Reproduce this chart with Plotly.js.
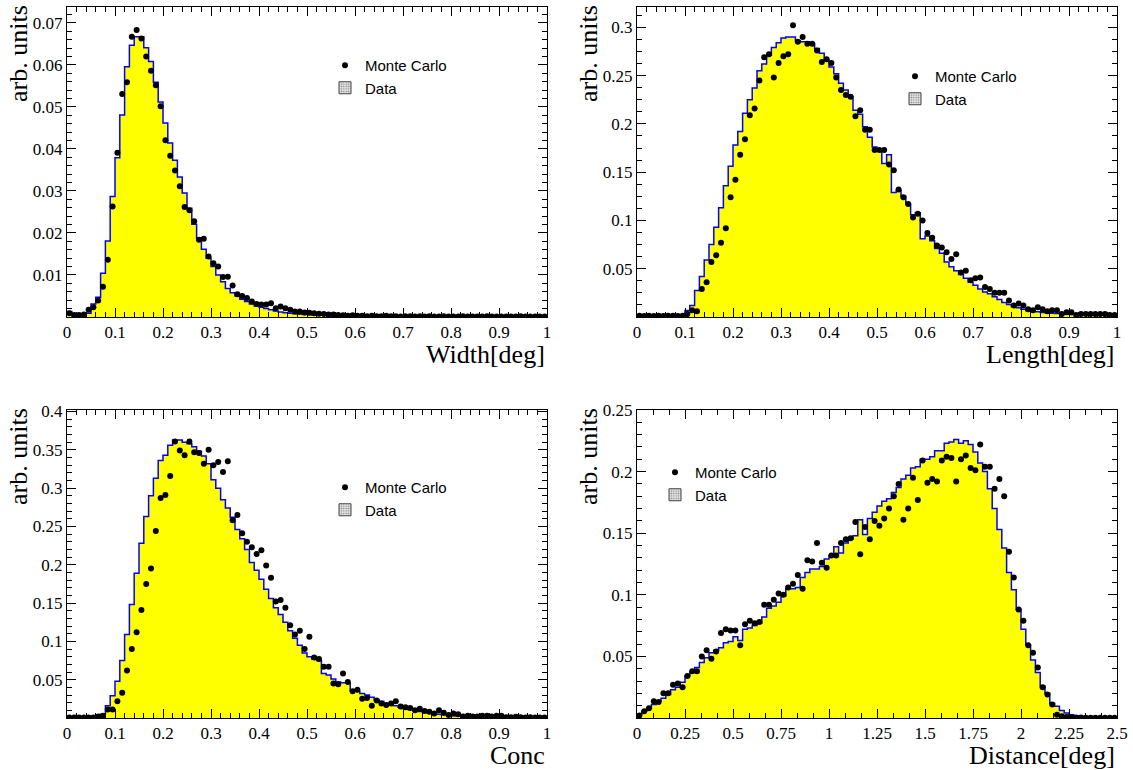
<!DOCTYPE html>
<html><head><meta charset="utf-8">
<script src="https://cdn.plot.ly/plotly-3.0.1.min.js"></script>
<style>body{margin:0;background:#fff}#chart{width:1133px;height:770px}</style>
</head><body><div id="chart"></div>
<script>
// ---------- data (100 bins per histogram) ----------
const widthRange = [0, 1];
const lengthRange = [0, 1];
const concRange = [0, 1];
const distanceRange = [0, 2.5];

const widthData = [0.0013,0.0003,0.0003,0.0004,0.0009,0.0031,0.0047,0.0104,0.0181,0.0287,
 0.0379,0.0481,0.0596,0.0647,0.0667,0.0667,0.0641,0.0608,0.0559,0.0512,
 0.0462,0.0414,0.0373,0.0333,0.0295,0.0259,0.0221,0.0188,0.0161,0.0140,
 0.0120,0.0100,0.0084,0.0068,0.0058,0.0050,0.0042,0.0037,0.0031,0.0026,
 0.0023,0.0020,0.0017,0.0014,0.0012,0.0010,0.0009,0.0008,0.0007,0.0006,
 0.0006,0.0005,0.0005,0.0004,0.0004,0.0003,0.0003,0.0003,0.0003,0.0003,
 0.0003,0.0002,0.0002,0.0002,0.0002,0.0002,0.0002,0.0002,0.0002,0.0002,
 0.0002,0.0001,0.0001,0.0001,0.0001,0.0001,0.0001,0.0001,0.0001,0.0001,
 0.0001,0.0001,0.0001,0.0001,0.0001,0.0001,0.0001,0.0001,0.0001,0.0001,
 0.0001,0.0001,0.0001,0.0001,0.0001,0.0001,0.0001,0.0001,0.0001,0.0001];
const widthMC = [0.0009,0.0005,0.0005,0.0006,0.0017,0.0023,0.0039,0.0072,0.0136,0.0263,
 0.0391,0.0531,0.0559,0.0667,0.0683,0.0663,0.0620,0.0586,0.0552,0.0502,
 0.0421,0.0384,0.0349,0.0311,0.0262,0.0254,0.0228,0.0184,0.0186,0.0144,
 0.0128,0.0120,0.0095,0.0096,0.0075,0.0054,0.0050,0.0045,0.0037,0.0031,
 0.0030,0.0030,0.0033,0.0021,0.0025,0.0021,0.0017,0.0013,0.0013,0.0011,
 0.0010,0.0009,0.0008,0.0007,0.0006,0.0006,0.0005,0.0004,0.0003,0.0004,
 0.0003,0.0003,0.0002,0.0003,0.0002,0.0002,0.0003,0.0002,0.0002,0.0001,
 0.0002,0.0002,0.0001,0.0002,0.0001,0.0002,0.0001,0.0001,0.0002,0.0001,
 0.0001,0.0001,0.0002,0.0001,0.0001,0.0001,0.0001,0.0002,0.0001,0.0001,
 0.0001,0.0001,0.0001,0.0001,0.0002,0.0001,0.0001,0.0001,0.0001,0.0001];

const lengthData = [0.0008,0.0008,0.0008,0.0008,0.0008,0.0008,0.0008,0.0008,0.0008,0.0008,
 0.0067,0.012,0.0275,0.042,0.059,0.075,0.093,0.113,0.136,0.156,
 0.178,0.192,0.211,0.225,0.237,0.255,0.262,0.271,0.279,0.284,
 0.289,0.290,0.290,0.286,0.285,0.285,0.283,0.278,0.273,0.266,
 0.259,0.252,0.242,0.235,0.228,0.214,0.210,0.197,0.186,0.176,
 0.173,0.159,0.168,0.129,0.131,0.125,0.117,0.106,0.108,0.081,
 0.084,0.079,0.071,0.066,0.057,0.052,0.048,0.044,0.040,0.036,
 0.033,0.029,0.026,0.024,0.021,0.018,0.015,0.013,0.011,0.0095,
 0.008,0.0067,0.006,0.0054,0.0047,0.0043,0.004,0.0036,0.0033,0.003,
 0.0027,0.0025,0.0023,0.0021,0.0019,0.0018,0.0017,0.0016,0.0015,0.0015];
const lengthMC = [0.0012,0.0010,0.0012,0.0010,0.0012,0.0010,0.0012,0.0012,0.0010,0.0012,
 0.003,0.007,0.006,0.029,0.036,0.057,0.064,0.077,0.092,0.124,
 0.142,0.168,0.184,0.209,0.216,0.245,0.269,0.272,0.248,0.263,
 0.270,0.272,0.302,0.285,0.290,0.283,0.283,0.276,0.264,0.267,
 0.263,0.248,0.235,0.230,0.228,0.208,0.214,0.194,0.194,0.173,
 0.173,0.173,0.158,0.152,0.132,0.124,0.117,0.103,0.107,0.100,
 0.087,0.082,0.074,0.072,0.067,0.060,0.065,0.046,0.048,0.038,
 0.040,0.041,0.031,0.029,0.025,0.025,0.025,0.017,0.012,0.014,
 0.012,0.008,0.007,0.010,0.008,0.006,0.007,0.007,0.003,0.005,
 0.005,0.002,0.003,0.003,0.003,0.003,0.003,0.003,0.002,0.002];

const concData = [0.001,0.001,0.001,0.001,0.001,0.001,0.002,0.005,0.016,0.029,
 0.048,0.075,0.109,0.148,0.189,0.228,0.263,0.290,0.313,0.336,
 0.343,0.356,0.363,0.363,0.360,0.358,0.354,0.348,0.342,0.332,
 0.311,0.300,0.285,0.274,0.262,0.246,0.234,0.220,0.203,0.193,
 0.181,0.168,0.156,0.144,0.135,0.125,0.114,0.104,0.095,0.085,
 0.080,0.077,0.075,0.058,0.056,0.051,0.047,0.046,0.046,0.036,
 0.035,0.032,0.030,0.027,0.024,0.022,0.019,0.018,0.016,0.014,
 0.012,0.011,0.010,0.0086,0.0077,0.0069,0.006,0.005,0.0042,0.0038,
 0.003,0.0025,0.0022,0.002,0.0018,0.0016,0.0014,0.0012,0.001,0.0009,
 0.0008,0.0006,0.0006,0.0005,0.0005,0.0004,0.0004,0.0004,0.0003,0.0003];
const concMC = [0.0008,0.0008,0.0008,0.0008,0.0008,0.0008,0.002,0.003,0.011,0.011,
 0.022,0.033,0.062,0.090,0.112,0.141,0.175,0.195,0.244,0.287,
 0.291,0.316,0.361,0.349,0.343,0.361,0.347,0.346,0.332,0.350,
 0.330,0.334,0.321,0.335,0.258,0.265,0.241,0.230,0.223,0.214,
 0.219,0.199,0.183,0.152,0.154,0.144,0.121,0.109,0.114,0.090,
 0.106,0.079,0.077,0.067,0.067,0.045,0.044,0.058,0.047,0.035,
 0.037,0.025,0.026,0.016,0.023,0.019,0.017,0.019,0.022,0.015,
 0.014,0.013,0.010,0.012,0.009,0.008,0.006,0.010,0.007,0.004,
 0.006,0.005,0.002,0.003,0.002,0.002,0.003,0.003,0.002,0.003,
 0.003,0.001,0.001,0.0015,0.001,0.0008,0.001,0.0008,0.0008,0.0006];

const distanceData = [0.003,0.0055,0.008,0.011,0.0135,0.016,0.019,0.023,0.025,0.029,
 0.034,0.037,0.041,0.045,0.049,0.053,0.055,0.057,0.061,0.062,
 0.066,0.063,0.072,0.073,0.075,0.077,0.082,0.089,0.091,0.094,
 0.099,0.105,0.105,0.106,0.114,0.118,0.121,0.121,0.123,0.129,
 0.132,0.139,0.134,0.142,0.145,0.148,0.161,0.149,0.162,0.167,
 0.172,0.176,0.178,0.183,0.187,0.194,0.197,0.203,0.204,0.210,
 0.210,0.212,0.217,0.217,0.223,0.224,0.226,0.223,0.225,0.222,
 0.216,0.207,0.200,0.186,0.170,0.153,0.138,0.118,0.104,0.088,
 0.072,0.059,0.047,0.037,0.026,0.020,0.012,0.0095,0.006,0.004,
 0.0027,0.0019,0.0013,0.001,0.0008,0.0006,0.0005,0.0004,0.0003,0.0003];
const distanceMC = [0.002,0.0054,0.008,0.0135,0.013,0.020,0.020,0.027,0.028,0.025,
 0.034,0.038,0.038,0.050,0.055,0.048,0.054,0.069,0.072,0.071,
 0.071,0.059,0.076,0.079,0.077,0.078,0.092,0.092,0.096,0.101,
 0.100,0.106,0.109,0.116,0.105,0.128,0.127,0.142,0.126,0.122,
 0.132,0.132,0.142,0.145,0.146,0.159,0.133,0.155,0.145,0.160,
 0.156,0.162,0.170,0.180,0.190,0.161,0.170,0.195,0.177,0.209,
 0.191,0.194,0.192,0.209,0.212,0.211,0.192,0.210,0.213,0.203,
 0.201,0.222,0.204,0.204,0.186,0.194,0.180,0.135,0.114,0.088,
 0.079,0.059,0.053,0.041,0.025,0.019,0.011,0.0027,0.0014,0.0008,
 0.0006,0.0005,0.0004,0.0003,0.0003,0.0003,0.0002,0.0002,0.0002,0.0002];

// tick labels
const unitXTicks = [0,0.1,0.2,0.3,0.4,0.5,0.6,0.7,0.8,0.9,1];
const unitXLabels = ['0','0.1','0.2','0.3','0.4','0.5','0.6','0.7','0.8','0.9','1'];
const distXTicks = [0,0.25,0.5,0.75,1,1.25,1.5,1.75,2,2.25,2.5];
const distXLabels = ['0','0.25','0.5','0.75','1','1.25','1.5','1.75','2','2.25','2.5'];
const widthYTicks = [0.01,0.02,0.03,0.04,0.05,0.06,0.07];
const widthYLabels = ['0.01','0.02','0.03','0.04','0.05','0.06','0.07'];
const lengthYTicks = [0.05,0.1,0.15,0.2,0.25,0.3];
const lengthYLabels = ['0.05','0.1','0.15','0.2','0.25','0.3'];
const concYTicks = [0.05,0.1,0.15,0.2,0.25,0.3,0.35,0.4];
const concYLabels = ['0.05','0.1','0.15','0.2','0.25','0.3','0.35','0.4'];
const distYTicks = [0.05,0.1,0.15,0.2,0.25];
const distYLabels = ['0.05','0.1','0.15','0.2','0.25'];

const xTitles = ['Width[deg]','Length[deg]','Conc','Distance[deg]'];
const yTitle = 'arb. units';
const seriesNames = ['Monte Carlo','Data'];

// ---------- drawing ----------
const W = 1133, H = 770;
function binEdges(r, n){ const w=(r[1]-r[0])/n; return Array.from({length:n+1},(_,i)=>+(r[0]+i*w).toFixed(6)); }
function binCenters(r, n){ const w=(r[1]-r[0])/n; return Array.from({length:n},(_,i)=>+(r[0]+(i+0.5)*w).toFixed(6)); }

const panels = [
  {data:widthData, mc:widthMC, range:widthRange, xt:unitXTicks, xl:unitXLabels, yt:widthYTicks, yl:widthYLabels,
   yr:[0,0.0738], ymin:0.002, xmin:0.02, px:[67,547], py:[7,317], leg:[325,49]},
  {data:lengthData, mc:lengthMC, range:lengthRange, xt:unitXTicks, xl:unitXLabels, yt:lengthYTicks, yl:lengthYLabels,
   yr:[0,0.321], ymin:0.0125, xmin:0.02, px:[637,1117], py:[7,317], leg:[895,60]},
  {data:concData, mc:concMC, range:concRange, xt:unitXTicks, xl:unitXLabels, yt:concYTicks, yl:concYLabels,
   yr:[0,0.402], ymin:0.01, xmin:0.02, px:[67,547], py:[410,718], leg:[325,471]},
  {data:distanceData, mc:distanceMC, range:distanceRange, xt:distXTicks, xl:distXLabels, yt:distYTicks, yl:distYLabels,
   yr:[0,0.25], ymin:0.01, xmin:0.25/3, px:[637,1117], py:[410,718], leg:[655,456]}
];

const traces = [];
const layout = {
  width:W, height:H, margin:{l:0,r:0,t:0,b:0}, paper_bgcolor:'white', plot_bgcolor:'white',
  showlegend:true, annotations:[], barmode:'overlay'
};
const serif = 'Liberation Serif, Times New Roman, serif';
const tickFont = {family:serif, size:17, color:'black'};

panels.forEach((p, k) => {
  const s = k===0 ? '' : String(k+1);
  const xa = 'x'+s, ya = 'y'+s, legName = 'legend'+s;
  const n = p.data.length;
  const edges = binEdges(p.range, n);
  const centers = binCenters(p.range, n);
  traces.push({type:'scatter', mode:'lines', x:edges, y:p.data.concat([p.data[n-1]]),
    line:{shape:'hv', color:'#0000ff', width:1.5}, fill:'tozeroy', fillcolor:'#ffff00',
    showlegend:false, hoverinfo:'skip', xaxis:xa, yaxis:ya});
  traces.push({type:'scatter', mode:'markers', x:centers, y:p.mc, name:seriesNames[0],
    marker:{color:'black', size:6}, xaxis:xa, yaxis:ya, legend:legName});
  // legend-only entry for the Data histogram (no visible mark)
  traces.push({type:'bar', x:[null], y:[null], name:seriesNames[1], xaxis:xa, yaxis:ya, legend:legName,
    marker:{color:'#eeeeee', line:{color:'#444', width:1},
      pattern:{shape:'.', fgcolor:'#888888', bgcolor:'#eeeeee', size:3, solidity:0.4}}});

  const common = {showline:true, linecolor:'black', linewidth:1, mirror:'allticks', ticks:'inside',
    ticklen:9, tickwidth:1, tickcolor:'black', showgrid:false, zeroline:false, tickfont:tickFont,
    tickmode:'array', automargin:false, fixedrange:true};
  layout['xaxis'+s] = Object.assign({}, common, {
    domain:[p.px[0]/W, p.px[1]/W], anchor:ya, range:p.range, tickvals:p.xt, ticktext:p.xl,
    minor:{ticks:'inside', ticklen:5, tickmode:'linear', tick0:0, dtick:p.xmin, tickcolor:'black', showgrid:false}
  });
  layout['yaxis'+s] = Object.assign({}, common, {
    domain:[1-p.py[1]/H, 1-p.py[0]/H], anchor:xa, range:p.yr, tickvals:p.yt, ticktext:p.yl,
    minor:{ticks:'inside', ticklen:5, tickmode:'linear', tick0:0, dtick:p.ymin, tickcolor:'black', showgrid:false}
  });
  layout[legName] = {x:p.leg[0]/W, y:1-p.leg[1]/H, xanchor:'left', yanchor:'top', bgcolor:'rgba(0,0,0,0)',
    borderwidth:0, font:{family:'Liberation Sans, Arial, sans-serif', size:15, color:'black'}, tracegroupgap:0};
  layout.annotations.push({xref:xa+' domain', yref:ya+' domain', x:1, y:0, xanchor:'right', yanchor:'top',
    yshift:-21, showarrow:false, text:xTitles[k], font:{family:serif, size:26, color:'black'}});
  layout.annotations.push({xref:xa+' domain', yref:ya+' domain', x:0, y:1, xanchor:'right', yanchor:'top',
    xshift:-32, yshift:4, textangle:-90, showarrow:false, text:yTitle,
    font:{family:serif, size:26, color:'black'}});
});

Plotly.newPlot('chart', traces, layout, {staticPlot:true, displayModeBar:false});
</script>
</body></html>
